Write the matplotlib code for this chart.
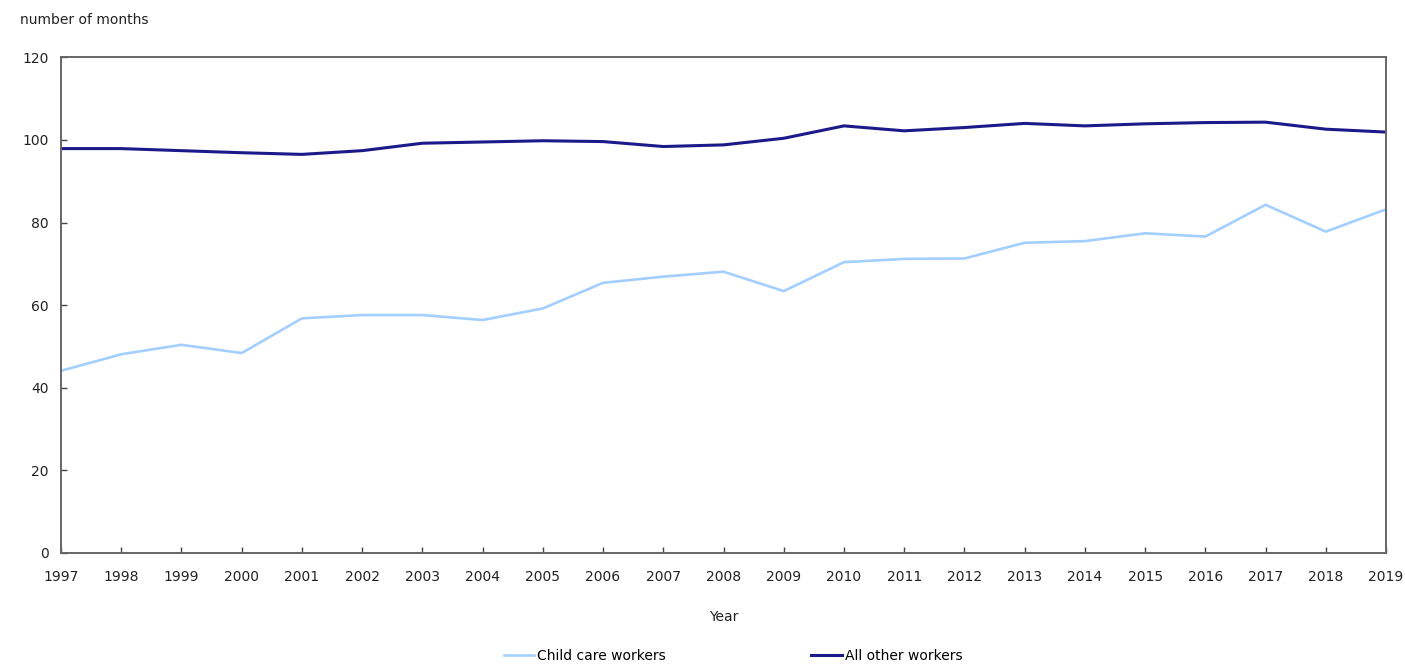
import numpy as np
import matplotlib
matplotlib.use("Agg")
import matplotlib.pyplot as plt

# data
years = list(range(1997, 2020))
child_care = [44.1, 48.1, 50.4, 48.4, 56.8, 57.6, 57.6, 56.4, 59.2, 65.4, 66.9,
              68.1, 63.4, 70.4, 71.2, 71.3, 75.1, 75.5, 77.4, 76.6, 84.3, 77.8, 83.2]
all_other = [97.9, 97.9, 97.4, 96.9, 96.5, 97.4, 99.2, 99.5, 99.8, 99.6, 98.4,
             98.8, 100.4, 103.4, 102.2, 103.0, 104.0, 103.4, 103.9, 104.2, 104.3, 102.6, 101.9]
y_ticks = [0, 20, 40, 60, 80, 100, 120]

plt.rcParams['font.family'] = 'DejaVu Sans'
plt.rcParams['font.size'] = 10

fig = plt.figure(figsize=(14.05, 6.68), dpi=100)
ax = fig.add_axes([0.0434, 0.1722, 0.9431, 0.742])

ax.plot(years, child_care, color='#a3cfff', lw=1.9, label='Child care workers')
ax.plot(years, all_other, color='#1c1a8a', lw=2.2, label='All other workers')

ax.set_xlim(1997, 2019)
ax.set_ylim(0, 120)
ax.set_xticks(years)
ax.set_yticks(y_ticks)
ax.tick_params(direction='in', length=4, width=1, colors='#444444', labelcolor='#222222')
ax.tick_params(axis='y', pad=9)
ax.tick_params(axis='x', pad=12)
for sp in ax.spines.values():
    sp.set_color('#666666')
    sp.set_linewidth(1.4)

ax.set_xlabel('Year', labelpad=19, color='#222222')
fig.text(20 / 1405, 1 - 20 / 668, 'number of months', va='center', ha='left', color='#222222')

fig.legend(loc='center', bbox_to_anchor=(733 / 1405, 1 - 656 / 668), ncol=2,
           frameon=False, handlelength=2.2, handletextpad=0.2, columnspacing=10.5)

fig.savefig('out.png', dpi=100)
